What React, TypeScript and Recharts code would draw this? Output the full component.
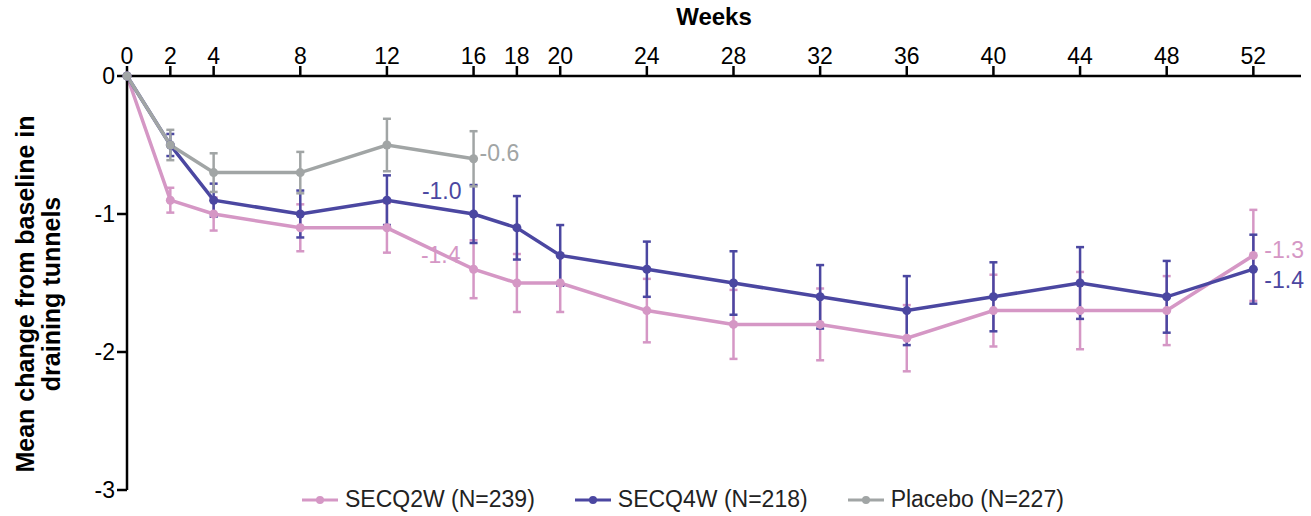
import React from 'react';
import { LineChart, Line, XAxis, YAxis, ErrorBar, Legend } from 'recharts';

const weeks = [0, 2, 4, 8, 12, 16, 18, 20, 24, 28, 32, 36, 40, 44, 48, 52];
const weekTicks = [0, 2, 4, 8, 12, 16, 18, 20, 24, 28, 32, 36, 40, 44, 48, 52];
const yTicks = [-3, -2, -1, 0];

const secq2w = [0, -0.9, -1.0, -1.1, -1.1, -1.4, -1.5, -1.5, -1.7, -1.8, -1.8, -1.9, -1.7, -1.7, -1.7, -1.3];
const secq2wErr = [null, 0.09, 0.12, 0.17, 0.18, 0.21, 0.21, 0.21, 0.23, 0.25, 0.26, 0.24, 0.26, 0.28, 0.25, 0.33];
const secq4w = [0, -0.5, -0.9, -1.0, -0.9, -1.0, -1.1, -1.3, -1.4, -1.5, -1.6, -1.7, -1.6, -1.5, -1.6, -1.4];
const secq4wErr = [null, 0.08, 0.12, 0.17, 0.18, 0.21, 0.23, 0.22, 0.2, 0.23, 0.23, 0.25, 0.25, 0.26, 0.26, 0.25];
const placebo = [0, -0.5, -0.7, -0.7, -0.5, -0.6, null, null, null, null, null, null, null, null, null, null];
const placeboErr = [null, 0.11, 0.14, 0.15, 0.19, 0.2, null, null, null, null, null, null, null, null, null, null];

const PINK = '#d597c5';
const PURPLE = '#4b47a1';
const GREY = '#a1a5a5';
const FONT = '"Liberation Sans", Arial, sans-serif';

const data = weeks.map((w, i) => ({
  week: w,
  secq2w: secq2w[i],
  secq2wErr: secq2wErr[i],
  secq4w: secq4w[i],
  secq4wErr: secq4wErr[i],
  placebo: placebo[i],
  placeboErr: placeboErr[i],
}));

// which points get a value label, and where it sits relative to the dot
const pinkLabels = { 5: { dx: -13, dy: -14, anchor: 'end' }, 15: { dx: 11, dy: -5, anchor: 'start' } };
const purpleLabels = { 5: { dx: -12, dy: -23, anchor: 'end' }, 15: { dx: 11, dy: 11, anchor: 'start' } };
const greyLabels = { 5: { dx: 6, dy: -6, anchor: 'start' } };

const makeLabel = (spots: any, color: string) => (props: any) => {
  const { x, y, index, value } = props;
  const s = spots[index];
  if (!s || value == null) return null;
  return (
    <text
      key={`lbl-${index}`}
      x={x + s.dx}
      y={y + s.dy}
      textAnchor={s.anchor}
      dominantBaseline="central"
      fill={color}
      fontSize={23}
      fontFamily={FONT}
    >
      {Number(value).toFixed(1)}
    </text>
  );
};

const YLabel = () => (
  <g>
    <text
      transform="translate(25, 294) rotate(-90)"
      textAnchor="middle"
      dominantBaseline="central"
      fontSize={25}
      fontWeight="bold"
      fontFamily={FONT}
      fill="#000"
    >
      Mean change from baseline in
    </text>
    <text
      transform="translate(51, 294) rotate(-90)"
      textAnchor="middle"
      dominantBaseline="central"
      fontSize={25}
      fontWeight="bold"
      fontFamily={FONT}
      fill="#000"
    >
      draining tunnels
    </text>
  </g>
);

const legendItems = [
  { name: 'SECQ2W (N=239)', color: PINK },
  { name: 'SECQ4W (N=218)', color: PURPLE },
  { name: 'Placebo (N=227)', color: GREY },
];

const CustomLegend = () => (
  <div style={{ display: 'flex', alignItems: 'center', paddingLeft: 302, marginTop: -4, fontFamily: FONT, fontSize: 23, color: '#222' }}>
    {legendItems.map((it) => (
      <div key={it.name} style={{ display: 'flex', alignItems: 'center', marginRight: 40 }}>
        <svg width={36} height={12} style={{ marginRight: 7 }}>
          <line x1={0} y1={6} x2={36} y2={6} stroke={it.color} strokeWidth={3} />
          <circle cx={18} cy={6} r={4} fill={it.color} />
        </svg>
        <span>{it.name}</span>
      </div>
    ))}
  </div>
);

export default function App() {
  return (
    <div style={{ position: 'absolute', left: 0, top: 0, background: '#fff' }}>
      <LineChart
        width={1311}
        height={516}
        data={data}
        margin={{ top: 0, right: 10, bottom: 0, left: 0 }}
        style={{ fontFamily: FONT }}
      >
        <XAxis
          dataKey="week"
          type="number"
          orientation="top"
          domain={[0, 54.2]}
          ticks={weekTicks}
          height={76}
          tickSize={10}
          fontSize={23}
          axisLine={{ stroke: '#000', strokeWidth: 2.5 }}
          tickLine={{ stroke: '#000', strokeWidth: 2.5 }}
          tick={{ fill: '#000', fontSize: 23, fontFamily: FONT }}
          label={{ value: 'Weeks', position: 'insideTop', offset: 8, fill: '#000', fontSize: 24, fontWeight: 'bold', fontFamily: FONT }}
        />
        <YAxis
          type="number"
          domain={[-3, 0]}
          ticks={yTicks}
          width={127}
          tickSize={10}
          fontSize={23}
          axisLine={{ stroke: '#000', strokeWidth: 2.5 }}
          tickLine={{ stroke: '#000', strokeWidth: 2.5 }}
          tick={{ fill: '#000', fontSize: 23, fontFamily: FONT }}
          label={<YLabel />}
        />
        <Legend verticalAlign="bottom" height={26} content={<CustomLegend />} />
        <Line
          dataKey="secq2w"
          stroke={PINK}
          strokeWidth={3.5}
          dot={{ r: 4.5, fill: PINK, stroke: PINK, strokeWidth: 0 }}
          isAnimationActive={false}
          label={makeLabel(pinkLabels, PINK)}
        >
          <ErrorBar dataKey="secq2wErr" width={4} stroke={PINK} strokeWidth={2.5} direction="y" />
        </Line>
        <Line
          dataKey="secq4w"
          stroke={PURPLE}
          strokeWidth={3.5}
          dot={{ r: 4.5, fill: PURPLE, stroke: PURPLE, strokeWidth: 0 }}
          isAnimationActive={false}
          label={makeLabel(purpleLabels, PURPLE)}
        >
          <ErrorBar dataKey="secq4wErr" width={4} stroke={PURPLE} strokeWidth={2.5} direction="y" />
        </Line>
        <Line
          dataKey="placebo"
          stroke={GREY}
          strokeWidth={3.5}
          dot={{ r: 4.5, fill: GREY, stroke: GREY, strokeWidth: 0 }}
          isAnimationActive={false}
          label={makeLabel(greyLabels, GREY)}
        >
          <ErrorBar dataKey="placeboErr" width={4} stroke={GREY} strokeWidth={2.5} direction="y" />
        </Line>
      </LineChart>
    </div>
  );
}
